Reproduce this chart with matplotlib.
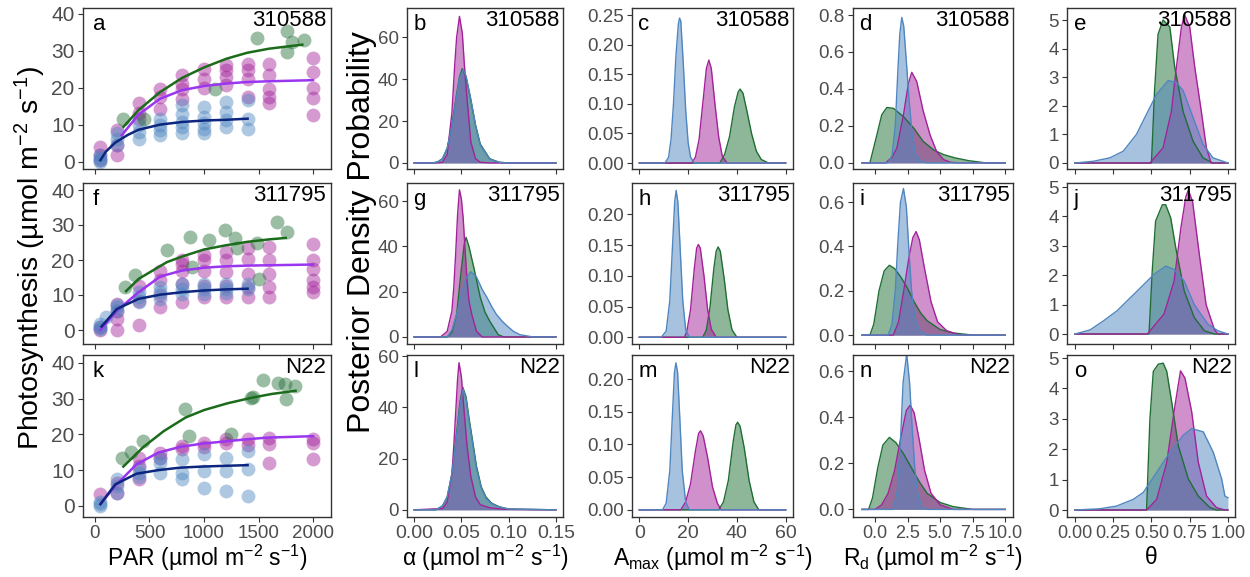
import matplotlib
matplotlib.use("Agg")
import matplotlib.pyplot as plt
from matplotlib.ticker import FormatStrFormatter

plt.rcParams['font.family'] = ['Liberation Sans', 'DejaVu Sans']
plt.rcParams['mathtext.fontset'] = 'custom'
plt.rcParams['mathtext.rm'] = 'Liberation Sans'
plt.rcParams['mathtext.it'] = 'Liberation Sans:italic'

# ---------------- light response data (panels a, f, k) ----------------
genotypes = ['310588', '311795', 'N22']

a_green_par = [260, 445, 1100, 1490, 1765, 1810, 1765, 1920]
a_green = [11.7, 11.7, 19.8, 33.5, 35.4, 32.5, 29.8, 33.0]
a_mag_par = [50, 50, 50, 200, 200, 200, 400, 400, 400, 600, 600, 600,
             800, 800, 800, 800, 1000, 1000, 1000, 1200, 1200, 1200, 1200,
             1400, 1400, 1400, 1400, 1600, 1600, 1600, 1600, 1600,
             2000, 2000, 2000, 2000, 2000]
a_mag = [0.5, 1.8, 4.0, 1.8, 4.5, 8.6, 15.8, 13.1, 11.5, 19.8, 17.6, 14.4,
         23.4, 21.2, 19.8, 17.1, 25.2, 22.5, 20.0, 26.1, 24.8, 23.0, 20.7,
         26.6, 24.8, 22.5, 17.5, 26.6, 23.4, 19.8, 17.6, 16.0,
         28.1, 24.3, 20.0, 17.3, 12.8]
a_blue_par = [50, 50, 50, 50, 200, 200, 200, 400, 400, 400, 600, 600, 600, 600,
              800, 800, 800, 800, 800, 1000, 1000, 1000, 1000, 1000,
              1200, 1200, 1200, 1200, 1400, 1400, 1400]
a_blue = [0, 1, 2, 0.5, 7.7, 6.3, 4.5, 9.9, 8.1, 6.3, 11.7, 9.9, 8.6, 7.2,
          15.3, 13.0, 10.8, 9.5, 7.7, 14.9, 12.2, 10.4, 9.0, 7.7,
          16.2, 13.5, 11.3, 9.5, 16.7, 11.7, 9.0]

f_green_par = [276, 368, 660, 868, 890, 1043, 1196, 1288, 1300, 1488, 1503, 1672, 1758]
f_green = [12.2, 15.6, 23.0, 26.6, 18.0, 25.6, 28.5, 26.2, 23.3, 24.9, 14.6, 30.9, 28.0]
f_mag_par = [50, 50, 200, 200, 200, 200, 400, 400, 400, 600, 600, 600, 600,
             800, 800, 800, 800, 800, 1000, 1000, 1000, 1000, 1000,
             1200, 1200, 1200, 1200, 1200, 1400, 1400, 1400, 1400, 1400,
             1600, 1600, 1600, 1600, 1600, 2000, 2000, 2000, 2000, 2000, 2000]
f_mag = [0, 0.8, 0, 3.2, 7.5, 5.5, 1.5, 12.7, 8.4, 6.5, 9.9, 14.2, 17,
         7.9, 13.2, 17, 18.9, 20.1, 9.4, 12.7, 17, 19.9, 21.3,
         9.4, 12.7, 16.6, 19.9, 22.3, 9.4, 12.2, 16.1, 20.3, 23.3,
         9.4, 12.2, 16.1, 20.1, 23.7, 10.8, 14.2, 17.5, 20.1, 24.7, 12.2]
f_blue_par = [50, 50, 50, 100, 200, 200, 200, 400, 400, 400, 600, 600, 600,
              800, 800, 800, 1000, 1000, 1000, 1200, 1200, 1200, 1400, 1400]
f_blue = [0.8, 1.7, 0.2, 3.6, 6.5, 5.5, 7.2, 10.8, 9.4, 7.9, 12.2, 10.8, 8.9,
          13.2, 11.8, 10.3, 13.2, 11.8, 10.3, 13.2, 11.8, 10.5, 13.2, 11.8]

k_green_par = [250, 330, 444, 830, 861, 1247, 1432, 1450, 1540, 1679, 1741, 1756, 1833]
k_green = [13.5, 15.2, 18.1, 27.0, 19.5, 20.0, 30.2, 30.4, 35.3, 34.4, 34.0, 29.8, 33.5]
k_mag_par = [50, 200, 200, 400, 400, 400, 600, 600, 800, 800, 1000, 1000,
             1200, 1200, 1400, 1400, 1600, 1600, 1600, 2000, 2000, 2000]
k_mag = [3.3, 3.7, 6.5, 13.5, 11.2, 7.4, 14.9, 13.5, 16.7, 15.8, 17.7, 16.5,
         18.6, 17.5, 18.6, 17.0, 19.0, 17.2, 12.1, 18.6, 17.7, 13.0]
k_blue_par = [50, 50, 50, 200, 200, 200, 400, 400, 400, 600, 600, 600,
              800, 800, 800, 1000, 1000, 1000, 1200, 1200, 1200, 1400, 1400, 1400]
k_blue = [0, 0.5, 1.2, 7.4, 5.6, 3.7, 10.7, 9.3, 8.0, 13.5, 12.0, 9.3,
          13.0, 9.3, 7.4, 14.4, 9.8, 5.1, 13.5, 9.8, 4.2, 15.3, 10.2, 2.8]

# fitted curves
a_fit_green_par = [261, 399, 598, 798, 997, 1206, 1396, 1595, 1902]
a_fit_green = [9.5, 14.0, 18.9, 22.7, 25.5, 27.9, 29.5, 30.6, 31.7]
a_fit_purple_par = [245, 399, 598, 798, 997, 1206, 1396, 1595, 2000]
a_fit_purple = [7.2, 12.8, 17.1, 19.4, 20.5, 21.2, 21.6, 21.8, 22.1]
a_fit_blue_par = [50, 100, 184, 300, 399, 598, 798, 997, 1206, 1400]
a_fit_blue = [0.5, 2.8, 5.2, 7.3, 8.7, 10.1, 10.8, 11.2, 11.4, 11.7]

f_fit_green_par = [285, 400, 660, 800, 1000, 1200, 1400, 1600, 1750]
f_fit_green = [11.1, 14.6, 19.4, 21.0, 23.0, 24.2, 25.2, 25.9, 26.3]
f_fit_purple_par = [50, 200, 400, 600, 800, 1000, 1200, 1400, 1600, 2000]
f_fit_purple = [0, 5.5, 10.8, 15.3, 17.0, 17.8, 18.2, 18.4, 18.5, 18.7]
f_fit_blue_par = [60, 200, 400, 600, 800, 1000, 1200, 1400]
f_fit_blue = [1.0, 6.0, 8.9, 10.1, 10.8, 11.3, 11.6, 11.8]

k_fit_green_par = [260, 445, 630, 830, 1000, 1216, 1430, 1620, 1840]
k_fit_green = [11.0, 16.5, 20.9, 24.7, 26.8, 28.7, 30.2, 31.3, 32.2]
k_fit_purple_par = [50, 185, 380, 580, 780, 980, 1180, 1380, 1580, 2000]
k_fit_purple = [0.5, 5.6, 11.6, 14.9, 16.5, 17.4, 18.0, 18.6, 19.1, 19.5]
k_fit_blue_par = [50, 185, 380, 580, 780, 980, 1180, 1400]
k_fit_blue = [0.5, 6.0, 9.0, 10.0, 10.7, 11.0, 11.2, 11.4]

# ---------------- posterior densities ----------------
# alpha
b_green_x = [0, 0.020, 0.025, 0.030, 0.035, 0.040, 0.045, 0.048, 0.051, 0.055, 0.060, 0.065, 0.070, 0.080, 0.090, 0.100, 0.15]
b_green_y = [0, 0, 0.5, 2, 7, 18, 33, 41, 45, 41, 30, 18, 9, 2, 0.3, 0, 0]
b_mag_x = [0, 0.025, 0.030, 0.035, 0.040, 0.043, 0.045, 0.048, 0.051, 0.053, 0.055, 0.060, 0.065, 0.070, 0.080, 0.15]
b_mag_y = [0, 0, 0.3, 4, 24, 47, 60, 70, 62, 48, 36, 10, 2, 0.3, 0, 0]
b_blue_x = [0, 0.020, 0.025, 0.030, 0.035, 0.040, 0.045, 0.048, 0.052, 0.055, 0.060, 0.065, 0.070, 0.080, 0.090, 0.100, 0.15]
b_blue_y = [0, 0, 0.5, 2, 7, 17.5, 32, 40.5, 44.5, 41.5, 30.5, 18, 8.5, 1.8, 0.3, 0, 0]

g_green_x = [0, 0.035, 0.040, 0.045, 0.050, 0.053, 0.055, 0.058, 0.063, 0.070, 0.075, 0.080, 0.089, 0.095, 0.15]
g_green_y = [0, 0, 2, 10, 30, 41, 44, 40, 31, 17.5, 11, 7, 1, 0, 0]
g_mag_x = [0, 0.028, 0.035, 0.040, 0.042, 0.044, 0.046, 0.048, 0.050, 0.052, 0.054, 0.056, 0.058, 0.061, 0.066, 0.072, 0.15]
g_mag_y = [0, 0, 2.5, 11.5, 22, 37, 54, 65, 61, 52, 38, 25, 16, 10, 2.5, 0, 0]
g_blue_x = [0, 0.035, 0.040, 0.045, 0.050, 0.055, 0.060, 0.066, 0.072, 0.077, 0.082, 0.087, 0.093, 0.098, 0.105, 0.112, 0.126, 0.15]
g_blue_y = [0, 0, 3, 10, 19, 26, 28.8, 26.5, 21, 17.5, 13.5, 10, 7, 5, 2.5, 1, 0, 0]

l_green_x = [0, 0.023, 0.030, 0.035, 0.040, 0.045, 0.0485, 0.0515, 0.055, 0.058, 0.061, 0.066, 0.071, 0.076, 0.082, 0.090, 0.100, 0.15]
l_green_y = [0, 0, 1.5, 5, 14, 30, 42, 47.8, 44, 36, 29, 17, 9, 5, 2.6, 1.2, 0.3, 0]
l_mag_x = [0, 0.030, 0.035, 0.040, 0.042, 0.044, 0.046, 0.0475, 0.050, 0.053, 0.056, 0.060, 0.065, 0.070, 0.080, 0.095, 0.15]
l_mag_y = [0, 0.5, 3, 14, 25, 38, 51, 57.4, 52, 38, 25, 13, 5, 2, 0.8, 0.2, 0]
l_blue_x = [0, 0.023, 0.030, 0.035, 0.040, 0.045, 0.049, 0.052, 0.055, 0.058, 0.061, 0.066, 0.071, 0.076, 0.082, 0.090, 0.100, 0.15]
l_blue_y = [0, 0, 1.5, 5, 14, 29, 42, 47, 43, 35, 28, 16, 8.5, 4.5, 2.4, 1.1, 0.3, 0]

# Amax
c_green_x = [0, 33, 35, 37, 39, 40.5, 41.3, 42.5, 44, 46, 48, 50, 53, 60]
c_green_y = [0, 0, 0.015, 0.045, 0.095, 0.12, 0.125, 0.118, 0.09, 0.05, 0.02, 0.006, 0, 0]
c_mag_x = [0, 21.5, 23, 24.5, 26, 27.5, 28.5, 29.5, 31, 32.5, 34, 36, 60]
c_mag_y = [0, 0, 0.01, 0.04, 0.1, 0.16, 0.174, 0.16, 0.1, 0.045, 0.012, 0, 0]
c_blue_x = [0, 10.5, 12, 13, 14, 15, 16, 16.5, 17, 18, 19, 20, 21, 22.5, 60]
c_blue_y = [0, 0, 0.01, 0.04, 0.1, 0.18, 0.235, 0.245, 0.24, 0.17, 0.09, 0.035, 0.01, 0, 0]

h_green_x = [0, 26, 27.5, 29, 30.5, 31.5, 32.3, 33.2, 34.8, 36.3, 38, 40, 60]
h_green_y = [0, 0, 0.012, 0.05, 0.11, 0.14, 0.147, 0.14, 0.095, 0.045, 0.012, 0, 0]
h_mag_x = [0, 18.5, 19.5, 21, 22.5, 23.5, 24.2, 25, 26.5, 28, 29.5, 31.5, 60]
h_mag_y = [0, 0, 0.01, 0.045, 0.11, 0.145, 0.151, 0.145, 0.1, 0.045, 0.013, 0, 0]
h_blue_x = [0, 9, 11, 12.5, 13.5, 14.5, 15.1, 15.8, 16.8, 17.8, 19, 20.5, 60]
h_blue_y = [0, 0, 0.01, 0.06, 0.14, 0.22, 0.239, 0.22, 0.14, 0.06, 0.012, 0, 0]

m_green_x = [0, 32.5, 34.5, 36.5, 38.5, 39.6, 40.3, 41.3, 43, 45, 47, 49, 60]
m_green_y = [0, 0, 0.012, 0.045, 0.105, 0.13, 0.134, 0.128, 0.095, 0.045, 0.012, 0, 0]
m_mag_x = [0, 17, 19, 21, 23, 24.3, 25.1, 26.2, 28, 30, 32, 33.5, 60]
m_mag_y = [0, 0, 0.012, 0.04, 0.09, 0.117, 0.121, 0.113, 0.08, 0.035, 0.01, 0, 0]
m_blue_x = [0, 9.5, 11, 12.5, 13.5, 14.4, 15, 15.7, 16.6, 17.6, 19, 20.5, 60]
m_blue_y = [0, 0, 0.01, 0.06, 0.14, 0.21, 0.225, 0.21, 0.14, 0.06, 0.012, 0, 0]

# Rd
d_green_x = [-1, -0.4, 0.13, 0.51, 0.9, 1.41, 2.18, 2.95, 3.7, 4.5, 5.26, 6.15, 7.2, 8.5, 10]
d_green_y = [0, 0, 0.15, 0.26, 0.30, 0.295, 0.25, 0.19, 0.116, 0.07, 0.045, 0.027, 0.012, 0, 0]
d_mag_x = [-1, 0.8, 1.3, 1.67, 2.18, 2.56, 2.82, 3.2, 3.7, 4.23, 4.74, 5.26, 5.77, 6.5, 10]
d_mag_y = [0, 0, 0.03, 0.08, 0.26, 0.43, 0.49, 0.44, 0.28, 0.15, 0.06, 0.018, 0.004, 0, 0]
d_blue_x = [-1, 1.0, 1.3, 1.55, 1.75, 1.9, 2.05, 2.2, 2.4, 2.6, 2.85, 3.1, 3.5, 4.0, 10]
d_blue_y = [0, 0, 0.04, 0.2, 0.5, 0.7, 0.787, 0.74, 0.55, 0.35, 0.15, 0.05, 0.01, 0, 0]

i_green_x = [-1, -0.4, -0.1, 0.3, 0.7, 1.1, 1.5, 2.0, 2.5, 3.0, 3.5, 4.0, 5.0, 6.0, 7.5, 10]
i_green_y = [0, 0, 0.05, 0.2, 0.29, 0.315, 0.3, 0.26, 0.21, 0.15, 0.1, 0.065, 0.025, 0.01, 0, 0]
i_mag_x = [-1, 1.4, 1.8, 2.2, 2.6, 2.9, 3.15, 3.4, 3.8, 4.3, 4.8, 5.5, 6.5, 10]
i_mag_y = [0, 0, 0.06, 0.2, 0.35, 0.44, 0.467, 0.43, 0.3, 0.15, 0.06, 0.02, 0, 0]
i_blue_x = [-1, 1.0, 1.3, 1.55, 1.75, 1.95, 2.18, 2.4, 2.6, 2.8, 3.05, 3.4, 4.0, 10]
i_blue_y = [0, 0, 0.05, 0.2, 0.42, 0.6, 0.661, 0.58, 0.38, 0.2, 0.08, 0.02, 0, 0]

n_green_x = [-1, -0.5, -0.2, 0.2, 0.6, 1.1, 1.6, 2.2, 2.8, 3.4, 4.0, 5.0, 6.0, 7.5, 10]
n_green_y = [0, 0, 0.05, 0.18, 0.28, 0.313, 0.29, 0.24, 0.18, 0.12, 0.07, 0.03, 0.012, 0, 0]
n_mag_x = [-1, 0, 0.5, 1.0, 1.5, 2.0, 2.4, 2.7, 3.0, 3.4, 3.8, 4.3, 5.0, 6.0, 10]
n_mag_y = [0, 0, 0.02, 0.07, 0.17, 0.32, 0.43, 0.453, 0.42, 0.3, 0.17, 0.07, 0.02, 0, 0]
n_blue_x = [-1, 1.4, 1.7, 1.95, 2.15, 2.43, 2.65, 2.85, 3.05, 3.3, 3.6, 4.0, 10]
n_blue_y = [0, 0, 0.08, 0.3, 0.55, 0.677, 0.55, 0.35, 0.18, 0.06, 0.01, 0, 0]

# theta
e_green_x = [0, 0.5, 0.52, 0.543, 0.576, 0.62, 0.652, 0.707, 0.772, 0.837, 0.9, 1]
e_green_y = [0, 0, 2.5, 4.5, 5.0, 4.76, 3.35, 1.8, 0.76, 0.18, 0, 0]
e_mag_x = [0, 0.49, 0.576, 0.63, 0.663, 0.696, 0.717, 0.75, 0.783, 0.826, 0.859, 0.89, 1]
e_mag_y = [0, 0, 0.53, 1.8, 3.35, 4.76, 5.18, 4.76, 3.35, 1.8, 0.53, 0, 0]
e_blue_x = [0, 0.12, 0.228, 0.315, 0.402, 0.467, 0.533, 0.609, 0.663, 0.707, 0.772, 0.837, 0.902, 1]
e_blue_y = [0, 0.06, 0.18, 0.41, 1.0, 1.7, 2.4, 2.88, 2.82, 2.53, 1.59, 0.65, 0.18, 0]

j_green_x = [0, 0.484, 0.505, 0.527, 0.571, 0.593, 0.626, 0.659, 0.714, 0.78, 0.846, 0.912, 1]
j_green_y = [0, 0, 2.14, 3.84, 4.4, 4.4, 3.95, 2.93, 1.47, 0.56, 0.11, 0, 0]
j_mag_x = [0, 0.473, 0.582, 0.648, 0.692, 0.725, 0.741, 0.769, 0.813, 0.857, 0.912, 0.934, 1]
j_mag_y = [0, 0, 0.68, 1.8, 3.6, 4.68, 4.9, 4.5, 2.7, 1.0, 0.14, 0, 0]
j_blue_x = [0, 0.099, 0.187, 0.275, 0.363, 0.451, 0.516, 0.593, 0.648, 0.714, 0.78, 0.868, 0.934, 1]
j_blue_y = [0, 0.14, 0.45, 0.79, 1.24, 1.69, 2.03, 2.31, 2.2, 1.8, 1.0, 0.34, 0.11, 0]

o_green_x = [0, 0.468, 0.49, 0.512, 0.545, 0.577, 0.6, 0.632, 0.675, 0.741, 0.806, 0.882, 0.925, 1]
o_green_y = [0, 0, 3.0, 4.56, 4.8, 4.83, 4.56, 3.56, 2.12, 1.02, 0.46, 0.08, 0, 0]
o_mag_x = [0, 0.468, 0.534, 0.6, 0.654, 0.69, 0.719, 0.763, 0.806, 0.86, 0.925, 0.98, 1]
o_mag_y = [0, 0, 0.35, 1.57, 3.45, 4.58, 4.34, 3.23, 1.57, 0.46, 0.08, 0, 0]
o_blue_x = [0, 0.163, 0.272, 0.381, 0.447, 0.534, 0.621, 0.708, 0.763, 0.839, 0.904, 0.959, 0.98, 1]
o_blue_y = [0, 0.04, 0.13, 0.35, 0.58, 1.24, 1.9, 2.46, 2.68, 2.57, 1.9, 1.02, 0.46, 0.4]

GREEN = '#1f6e35'
MAG = '#a3229a'
BLUE = '#4f86c0'
FIT = {'green': '#1b6b1b', 'purple': '#9a35f0', 'blue': '#0c257e'}
TICK_GREY = '#4d4d4d'

fig = plt.figure(figsize=(12.5, 5.77), dpi=100)
W, H = 1250, 577
col_px = [(83, 331), (407, 563), (632, 793), (853, 1013), (1067, 1235)]
row_px = [(8, 169), (183, 344), (355, 517)]


def make_ax(r, c):
    l, rr = col_px[c]
    t, b = row_px[r]
    ax = fig.add_axes([l / W, 1 - b / H, (rr - l) / W, (b - t) / H])
    for s in ax.spines.values():
        s.set_color('#333333')
        s.set_linewidth(1.0)
    ax.tick_params(colors='#333333', length=3.5, width=0.8, labelcolor=TICK_GREY, pad=2.5)
    return ax


def labels(ax, letter, geno):
    ax.text(0.04, 0.96, letter, transform=ax.transAxes, ha='left', va='top', fontsize=16)
    ax.text(0.98, 0.985, geno, transform=ax.transAxes, ha='right', va='top', fontsize=16)


# column 1: light response
light = [
    ('a', (a_green_par, a_green), (a_mag_par, a_mag), (a_blue_par, a_blue),
     (a_fit_green_par, a_fit_green), (a_fit_purple_par, a_fit_purple), (a_fit_blue_par, a_fit_blue), (-1.9, 41.6)),
    ('f', (f_green_par, f_green), (f_mag_par, f_mag), (f_blue_par, f_blue),
     (f_fit_green_par, f_fit_green), (f_fit_purple_par, f_fit_purple), (f_fit_blue_par, f_fit_blue), (-4, 42)),
    ('k', (k_green_par, k_green), (k_mag_par, k_mag), (k_blue_par, k_blue),
     (k_fit_green_par, k_fit_green), (k_fit_purple_par, k_fit_purple), (k_fit_blue_par, k_fit_blue), (-3.1, 42.2)),
]
for r, (letter, gr, mg, bl, fg, fp, fb, ylim) in enumerate(light):
    ax = make_ax(r, 0)
    for (px, py), col in [(mg, MAG), (bl, BLUE), (gr, GREEN)]:
        ax.scatter(px, py, s=100, color=col, alpha=0.45, lw=0, zorder=2)
    ax.plot(*fg, color=FIT['green'], lw=1.8, zorder=3)
    ax.plot(*fp, color=FIT['purple'], lw=1.8, zorder=3)
    ax.plot(*fb, color=FIT['blue'], lw=1.8, zorder=3)
    ax.set_xlim(-110, 2165)
    ax.set_ylim(*ylim)
    ax.set_xticks([0, 500, 1000, 1500, 2000])
    ax.set_yticks([0, 10, 20, 30, 40])
    ax.tick_params(axis='y', labelsize=15)
    ax.tick_params(axis='x', labelsize=13.5)
    if r < 2:
        ax.set_xticklabels([])
    labels(ax, letter, genotypes[r])

density_cols = [
    {'xlim': (-0.0075, 0.1575), 'xticks': [0, 0.05, 0.10, 0.15], 'xfmt': '%.2f', 'yfmt': '%d',
     'panels': [('b', (b_green_x, b_green_y), (b_mag_x, b_mag_y), (b_blue_x, b_blue_y), (-2.9, 74), [0, 20, 40, 60]),
                ('g', (g_green_x, g_green_y), (g_mag_x, g_mag_y), (g_blue_x, g_blue_y), (-3.1, 68), [0, 20, 40, 60]),
                ('l', (l_green_x, l_green_y), (l_mag_x, l_mag_y), (l_blue_x, l_blue_y), (-2.8, 60.4), [0, 20, 40, 60])]},
    {'xlim': (-3, 63), 'xticks': [0, 20, 40, 60], 'xfmt': '%d', 'yfmt': '%.2f',
     'panels': [('c', (c_green_x, c_green_y), (c_mag_x, c_mag_y), (c_blue_x, c_blue_y), (-0.01, 0.262), [0, 0.05, 0.10, 0.15, 0.20, 0.25]),
                ('h', (h_green_x, h_green_y), (h_mag_x, h_mag_y), (h_blue_x, h_blue_y), (-0.011, 0.251), [0, 0.05, 0.10, 0.15, 0.20]),
                ('m', (m_green_x, m_green_y), (m_mag_x, m_mag_y), (m_blue_x, m_blue_y), (-0.011, 0.237), [0, 0.05, 0.10, 0.15, 0.20])]},
    {'xlim': (-1.7, 10.6), 'xticks': [0, 2.5, 5, 7.5, 10], 'xfmt': '%.1f', 'yfmt': '%.1f',
     'panels': [('d', (d_green_x, d_green_y), (d_mag_x, d_mag_y), (d_blue_x, d_blue_y), (-0.033, 0.838), [0, 0.2, 0.4, 0.6, 0.8]),
                ('i', (i_green_x, i_green_y), (i_mag_x, i_mag_y), (i_blue_x, i_blue_y), (-0.04, 0.686), [0, 0.2, 0.4, 0.6]),
                ('n', (n_green_x, n_green_y), (n_mag_x, n_mag_y), (n_blue_x, n_blue_y), (-0.033, 0.671), [0, 0.2, 0.4, 0.6])]},
    {'xlim': (-0.052, 1.046), 'xticks': [0, 0.25, 0.5, 0.75, 1], 'xfmt': '%.2f', 'yfmt': '%d',
     'panels': [('e', (e_green_x, e_green_y), (e_mag_x, e_mag_y), (e_blue_x, e_blue_y), (-0.21, 5.42), [0, 1, 2, 3, 4, 5]),
                ('j', (j_green_x, j_green_y), (j_mag_x, j_mag_y), (j_blue_x, j_blue_y), (-0.34, 5.14), [0, 1, 2, 3, 4, 5]),
                ('o', (o_green_x, o_green_y), (o_mag_x, o_mag_y), (o_blue_x, o_blue_y), (-0.23, 5.1), [0, 1, 2, 3, 4, 5])]},
]

xtick_sizes = [14, 14, 13, 13]
for c, spec in enumerate(density_cols, start=1):
    for r, (letter, gr, mg, bl, ylim, yticks) in enumerate(spec['panels']):
        ax = make_ax(r, c)
        for (dx, dy), col in [(gr, GREEN), (mg, MAG), (bl, BLUE)]:
            ax.fill_between(dx, dy, color=col, alpha=0.5, lw=0)
            ax.plot(dx, dy, color=col, lw=1.0)
        ax.set_xlim(*spec['xlim'])
        ax.set_ylim(*ylim)
        ax.set_xticks(spec['xticks'])
        ax.set_yticks(yticks)
        ax.xaxis.set_major_formatter(FormatStrFormatter(spec['xfmt']))
        ax.yaxis.set_major_formatter(FormatStrFormatter(spec['yfmt']))
        ax.tick_params(axis='y', labelsize=13.5)
        ax.tick_params(axis='x', labelsize=xtick_sizes[c - 1])
        if r < 2:
            ax.set_xticklabels([])
        labels(ax, letter, genotypes[r])

unit = r' (µmol m$^{\mathrm{-2}}$ s$^{\mathrm{-1}}$)'
xlabels = ['PAR' + unit, 'α' + unit, r'A$_{\mathrm{max}}$' + unit, r'R$_{\mathrm{d}}$' + unit, 'θ']
for (l, rr), lab in zip(col_px, xlabels):
    fig.text((l + rr) / 2 / W, 1 - 558 / H, lab, ha='center', va='center', fontsize=16.5)

fig.text(30 / W, 1 - 258 / H, 'Photosynthesis' + unit, rotation=90, ha='center', va='center', fontsize=20.5)
fig.text(362 / W, 1 - 232 / H, 'Posterior Density Probability', rotation=90, ha='center', va='center', fontsize=23)

fig.savefig('out.png', dpi=100)
